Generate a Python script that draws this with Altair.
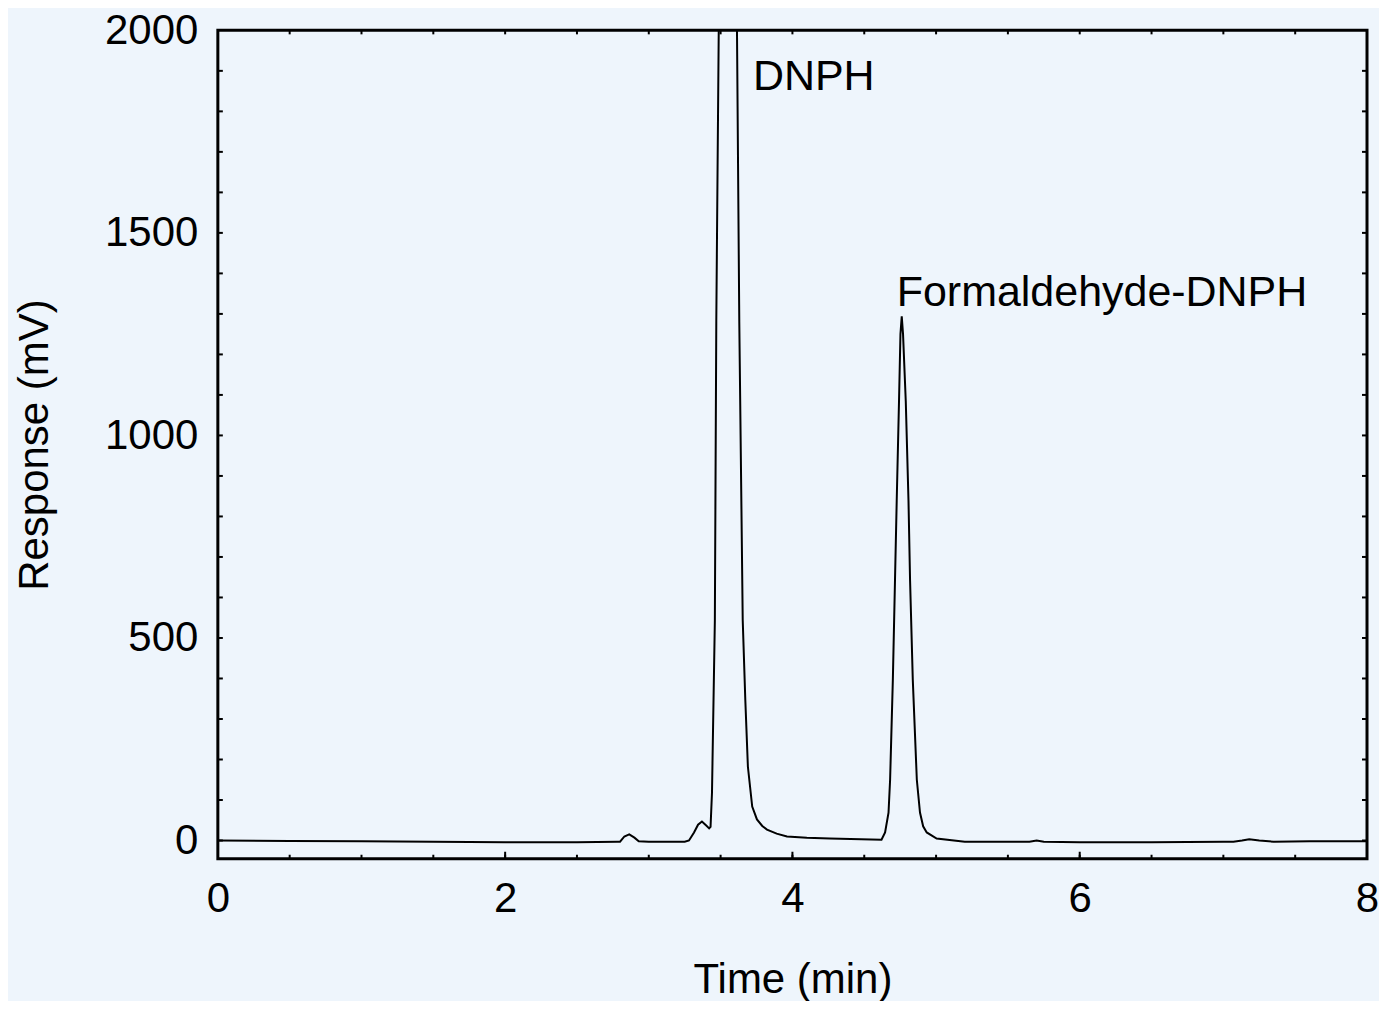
import altair as alt
import pandas as pd

# Chromatogram trace (time in min, response in mV)
time_min = [0.0, 0.5, 1.0, 1.5, 2.0, 2.5, 2.78, 2.80, 2.83, 2.864, 2.90, 2.93, 3.0, 3.25,
            3.28, 3.315, 3.343, 3.37, 3.40, 3.42, 3.43, 3.44, 3.46, 3.47, 3.487, 3.55,
            3.614, 3.63, 3.654, 3.672, 3.69, 3.72, 3.753, 3.79, 3.823, 3.89, 3.962, 4.10, 4.26, 4.62,
            4.645, 4.669, 4.68, 4.699, 4.714, 4.726, 4.742, 4.752, 4.761, 4.770, 4.789,
            4.808, 4.819, 4.838, 4.866, 4.888, 4.91, 4.935, 5.004, 5.2, 5.5, 5.65, 5.7, 5.75,
            6.0, 6.5, 7.0, 7.07, 7.13, 7.18, 7.25, 7.35, 7.6, 8.0]
response_mv = [0, -1, -2, -3, -4, -4, -3, -3, 10, 15, 7, -2, -3, -3,
               0, 20, 39, 47, 37, 30, 34, 118, 544, 1282, 2000, 2600,
               2000, 1282, 544, 347, 182, 84, 52, 36, 27, 17, 10, 7, 5, 2,
               20, 69, 150, 396, 642, 839, 1085, 1250, 1294, 1250, 1085,
               839, 642, 396, 150, 69, 35, 20, 5, -3, -3, -3, 0, -3,
               -4, -4, -3, -3, 0, 3, 0, -3, -2, -2]

x_label_values = [0, 2, 4, 6, 8]
y_label_values = [0, 500, 1000, 1500, 2000]
x_minor_ticks = [0.5, 1, 1.5, 2, 2.5, 3, 3.5, 4, 4.5, 5, 5.5, 6, 6.5, 7, 7.5]
x_major_ticks = [2, 4, 6]
y_minor_ticks = [0, 100, 200, 300, 400, 500, 600, 700, 800, 900, 1000, 1100, 1200,
                 1300, 1400, 1500, 1600, 1700, 1800, 1900]

peak_labels = ["DNPH", "Formaldehyde-DNPH"]
peak_label_t = [3.725, 4.726]
peak_label_v = [1852, 1319]

W, H = 1150, 829
X_DOMAIN = [0, 8]
Y_DOMAIN = [-45, 2000]
FONT = "Liberation Sans"

trace = pd.DataFrame({"t": time_min, "v": response_mv})
xs = alt.Scale(domain=X_DOMAIN, nice=False, zero=False)
ys = alt.Scale(domain=Y_DOMAIN, nice=False, zero=False)

x_axis = alt.Axis(
    values=x_label_values, ticks=False, domain=False, grid=False, format="d",
    labelFlush=False, labelOverlap=False,
    labelFontSize=42, labelFont=FONT, labelColor="black", labelPadding=20,
    title="Time (min)", titleFontSize=42, titleFont=FONT, titleFontWeight="normal",
    titleColor="black", titlePadding=40)
y_axis = alt.Axis(
    values=y_label_values, ticks=False, domain=False, grid=False, format="d",
    labelFlush=False, labelOverlap=False,
    labelFontSize=42, labelFont=FONT, labelColor="black", labelPadding=20,
    title="Response (mV)", titleFontSize=42, titleFont=FONT, titleFontWeight="normal",
    titleColor="black", titlePadding=48)

line = alt.Chart(trace).mark_line(color="black", strokeWidth=2, clip=True).encode(
    x=alt.X("t:Q", scale=xs, axis=x_axis),
    y=alt.Y("v:Q", scale=ys, axis=y_axis),
    order="t:Q",
)

yt = pd.DataFrame({"v": y_minor_ticks})
xt = pd.DataFrame({"t": x_minor_ticks})
xm = pd.DataFrame({"t": x_major_ticks})

tick_style = dict(color="black", strokeWidth=2)
left_ticks = alt.Chart(yt).mark_rule(**tick_style).encode(
    y=alt.Y("v:Q", scale=ys, axis=y_axis), x=alt.value(0), x2=alt.value(5))
right_ticks = alt.Chart(yt).mark_rule(**tick_style).encode(
    y=alt.Y("v:Q", scale=ys, axis=y_axis), x=alt.value(W - 5), x2=alt.value(W))
bottom_ticks = alt.Chart(xt).mark_rule(**tick_style).encode(
    x=alt.X("t:Q", scale=xs, axis=x_axis), y=alt.value(H - 4), y2=alt.value(H))
bottom_major = alt.Chart(xm).mark_rule(**tick_style).encode(
    x=alt.X("t:Q", scale=xs, axis=x_axis), y=alt.value(H - 7), y2=alt.value(H))
top_ticks = alt.Chart(xt).mark_rule(**tick_style).encode(
    x=alt.X("t:Q", scale=xs, axis=x_axis), y=alt.value(0), y2=alt.value(4))

labels = alt.Chart(pd.DataFrame({"lab": peak_labels, "t": peak_label_t, "v": peak_label_v})).mark_text(
    align="left", baseline="alphabetic", fontSize=43, font=FONT, color="black").encode(
    x=alt.X("t:Q", scale=xs, axis=x_axis), y=alt.Y("v:Q", scale=ys, axis=y_axis), text="lab:N")

chart = alt.layer(line, left_ticks, right_ticks, bottom_ticks, bottom_major, top_ticks, labels).properties(
    width=W, height=H,
    autosize=alt.AutoSizeParams(type="none"),
    padding={"left": 210, "top": 22, "right": 12, "bottom": 142},
    background="#EEF5FC",
).configure_view(stroke="black", strokeWidth=3)

chart.save("out.html", embed_options={"renderer": "svg", "actions": False})
